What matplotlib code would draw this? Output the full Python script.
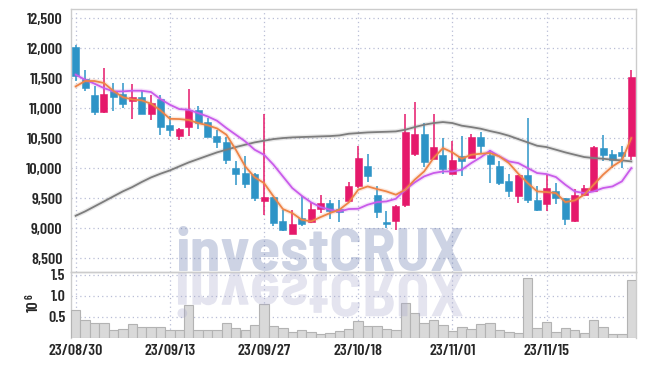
import numpy as np
import matplotlib.pyplot as plt
from matplotlib.textpath import TextPath
from matplotlib.patches import PathPatch
from matplotlib.font_manager import FontProperties
from matplotlib.transforms import Affine2D

# daily candles, 23/08/30 .. 23/11/28 (60 trading days)
opens = [12020, 11480, 11220, 10930, 11290, 11230, 11110, 11180, 10900, 11150,
         10720, 10530, 10690, 10970, 10770, 10530, 10430, 10000, 9915, 9905,
         9450, 9510, 9110, 8900, 9165, 9100, 9316, 9415, 9316, 9445,
         9695, 10040, 9555, 9105, 9110, 9380, 10240, 10570, 10155, 10220,
         9900, 10195, 10165, 10525, 10220, 10030, 9790, 9527, 9877, 9470,
         9400, 9620, 9500, 9110, 9555, 9610, 10330, 10240, 10265, 10195]
highs = [12050, 11630, 11360, 11670, 11420, 11420, 11400, 11280, 11220, 11220,
         10870, 10660, 11320, 11040, 10840, 10640, 10520, 10110, 10195, 9910,
         10900, 9510, 9300, 9300, 9530, 9430, 9555, 9470, 9470, 9770,
         10360, 10230, 9695, 9290, 9390, 10900, 11095, 10750, 10900, 10500,
         10445, 10540, 10570, 10600, 10305, 10110, 9900, 9880, 10830, 9695,
         9880, 9750, 9505, 9655, 9710, 10360, 10545, 10300, 10370, 11630]
lows = [11450, 11280, 10890, 10920, 10950, 11000, 10820, 10900, 10800, 10555,
        10530, 10470, 10530, 10650, 10510, 10335, 10070, 9720, 9665, 9445,
        9220, 9030, 8950, 8900, 9030, 9090, 9250, 9155, 9100, 9440,
        9665, 9760, 9165, 9000, 8970, 9350, 10195, 10025, 10150, 9900,
        9895, 9860, 10160, 10250, 9750, 9720, 9515, 9415, 9415, 9290,
        9290, 9400, 9045, 9105, 9540, 9605, 10125, 10000, 10000, 10140]
closes = [11540, 11330, 10940, 11230, 11180, 11060, 11180, 10900, 11090, 10690,
          10630, 10655, 10970, 10750, 10520, 10430, 10130, 9905, 9740, 9500,
          9510, 9090, 8960, 9065, 9065, 9315, 9416, 9290, 9270, 9705,
          10165, 9860, 9265, 9070, 9360, 10600, 10570, 10095, 10345, 9990,
          10140, 10110, 10525, 10360, 10070, 9750, 9610, 9877, 9460, 9295,
          9665, 9500, 9155, 9555, 9665, 10345, 10220, 10140, 10205, 11515]
volumes = [0.67, 0.42, 0.36, 0.36, 0.19, 0.22, 0.34, 0.27, 0.25, 0.25,
           0.18, 0.20, 0.79, 0.18, 0.18, 0.20, 0.345, 0.242, 0.18, 0.298,
           0.815, 0.282, 0.242, 0.147, 0.20, 0.147, 0.107, 0.13, 0.17, 0.218,
           0.40, 0.282, 0.282, 0.218, 0.187, 0.837, 0.60, 0.345, 0.43, 0.31,
           0.16, 0.27, 0.22, 0.34, 0.36, 0.195, 0.15, 0.12, 1.43, 0.24,
           0.386, 0.15, 0.24, 0.195, 0.12, 0.43, 0.27, 0.10, 0.10, 1.386]
volumes = [v * 1e6 for v in volumes]

# moving averages as drawn (they use data before the visible window)
ma_short = [11360, 11450, 11450, 11416, 11285, 11180, 11143, 11127, 11072, 10960,
            10820, 10816, 10800, 10749, 10713, 10660, 10555, 10305, 10027, 9846,
            9749, 9527, 9316, 9249, 9138, 9110, 9182, 9249, 9305, 9427,
            9638, 9693, 9649, 9610, 9555, 9638, 9805, 9943, 10166, 10332,
            10260, 10155, 10221, 10238, 10249, 10193, 10082, 9905, 9749, 9610,
            9599, 9582, 9432, 9460, 9555, 9721, 9888, 10027, 10127, 10499]
ma_mid = [11555, 11471, 11405, 11332, 11277, 11277, 11288, 11288, 11266, 11149,
          11055, 10982, 10971, 10916, 10860, 10788, 10666, 10555, 10444, 10305,
          10221, 10055, 9860, 9666, 9538, 9427, 9349, 9305, 9277, 9316,
          9321, 9388, 9432, 9443, 9488, 9638, 9760, 9860, 9916, 9943,
          9943, 9971, 10082, 10177, 10288, 10193, 10110, 10082, 9999, 9916,
          9899, 9849, 9721, 9610, 9582, 9610, 9666, 9693, 9777, 9999]
ma_long = [9204, 9277, 9360, 9443, 9527, 9610, 9682, 9766, 9843, 9905,
           9960, 10027, 10093, 10149, 10205, 10260, 10305, 10349, 10388, 10427,
           10455, 10482, 10499, 10510, 10516, 10521, 10527, 10532, 10543, 10571,
           10582, 10593, 10599, 10604, 10610, 10638, 10682, 10721, 10749, 10766,
           10749, 10705, 10682, 10655, 10616, 10582, 10538, 10482, 10427, 10371,
           10349, 10305, 10260, 10221, 10183, 10166, 10155, 10138, 10127, 10110]

date_labels = ['23/08/30', '23/09/13', '23/09/27', '23/10/18', '23/11/01', '23/11/15']

RED = '#e5196b'
BLUE = '#2e94c7'
GRID = '#b9bed6'
SPINE = '#cccccc'
INK = '#262626'
FONT = ['Barlow Condensed', 'DejaVu Sans']
LOGO_FONT = ['Barlow Semi Condensed', 'Barlow Condensed', 'DejaVu Sans']

o = np.array(opens); c = np.array(closes)
h = np.array(highs); l = np.array(lows)
x = np.arange(len(c))

fig = plt.figure(figsize=(6.45, 3.66), dpi=100)
W, H = 645, 366
ax = fig.add_axes([71 / W, 1 - 272 / H, 565 / W, 263 / H])
axv = fig.add_axes([71 / W, 1 - 338 / H, 565 / W, 66 / H], sharex=ax)
for a in (ax, axv):
    a.set_facecolor('none')
    for s in a.spines.values():
        s.set_color(SPINE)
        s.set_linewidth(1.0)
axv.spines['bottom'].set_visible(False)

# candles
col = np.where(c >= o, RED, BLUE)
ax.vlines(x, l, h, colors=col, lw=1.1, zorder=3)
body_lo = np.minimum(o, c)
body_h = np.maximum(np.abs(c - o), 15)
ax.bar(x, body_h, bottom=body_lo, width=0.74, color=col, edgecolor=col, lw=0.4, zorder=4)

# moving averages
for vals, colr in [(ma_long, '#7d7d7d'), (ma_mid, '#c95bea'), (ma_short, '#ee8447')]:
    ax.plot(x, vals, color=colr, lw=3.2, alpha=0.18, zorder=5, solid_capstyle='round')
    ax.plot(x, vals, color=colr, lw=1.3, zorder=6)

ax.set_xlim(-0.5, 59.5)
ax.set_ylim(8267, 12650)
ax.set_yticks(np.arange(8500, 12501, 500))
ax.set_yticklabels(['{:,}'.format(v) for v in range(8500, 12501, 500)])
ax.set_xticks(np.arange(0, 60, 10))
ax.grid(True, ls=(0, (1, 2.5)), color=GRID, lw=0.9)
ax.tick_params(length=0, pad=6, labelbottom=False, labelcolor=INK)

# volume
axv.bar(x, volumes, width=1.0, color='#d9d9d9', edgecolor='#b3b3b3', lw=0.8, zorder=3)
axv.set_ylim(0, 1.57e6)
axv.set_yticks([0.5e6, 1.0e6, 1.5e6])
axv.set_yticklabels(['0.5', '1.0', '1.5'])
axv.set_xticks(np.arange(0, 60, 10))
axv.set_xticklabels(date_labels)
axv.grid(True, ls=(0, (1, 2.5)), color=GRID, lw=0.9)
axv.tick_params(length=0, pad=4, labelcolor=INK)

tick_fp = FontProperties(family=FONT, weight=600, size=11.5)
for t in ax.get_yticklabels() + axv.get_yticklabels() + axv.get_xticklabels():
    t.set_fontproperties(tick_fp)

fig.text(34 / W, 1 - 306 / H, '10', rotation=90, ha='center', va='center',
         fontproperties=tick_fp, color=INK)
fig.text(30 / W, 1 - 297 / H, '6', rotation=90, ha='center', va='center',
         family=FONT, weight=600, size=8, color=INK)

# watermark with reflection, sized to the logo's width
fp = FontProperties(family=LOGO_FONT, weight=700, size=40)
tp = TextPath((0, 0), 'investCRUX', prop=fp)
fp.set_size(40 * 285 / (tp.get_extents().width * 100 / 72))
fig.text(320 / W, 1 - 271 / H, 'investCRUX', ha='center', va='baseline',
         fontproperties=fp, color='#5a6ea6', alpha=0.3, zorder=10)
tp = TextPath((0, 0), 'investCRUX', prop=fp)
ext = tp.get_extents()
x0 = 320 / 100 - ext.width / 2 / 72
y0 = (H - 273) / 100
tr = Affine2D().scale(1 / 72, -1 / 72).translate(x0 - ext.x0 / 72, y0) + fig.dpi_scale_trans
fig.add_artist(PathPatch(tp, transform=tr, facecolor='#a7a7cc', edgecolor='none',
                         alpha=0.3, zorder=10))

fig.savefig('out.png', dpi=100)
